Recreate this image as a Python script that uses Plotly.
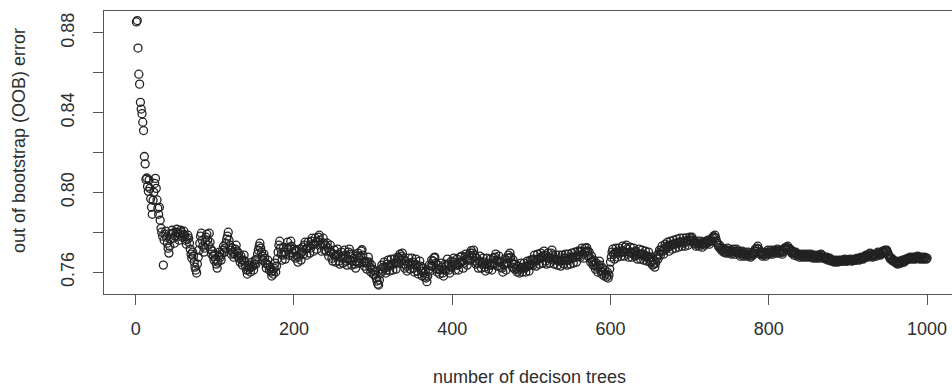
import plotly.graph_objects as go

# Out-of-bag error of a random forest as trees are added (one value per tree count)
oob_error = [
    0.8855, 0.8862, 0.8724, 0.8593, 0.8543, 0.8452, 0.8418, 0.8395, 0.8352, 0.8310,
    0.8180, 0.8143, 0.8065, 0.8072, 0.8030, 0.8005, 0.8062, 0.8020, 0.7968, 0.7925,
    0.7890, 0.7960, 0.8000, 0.8045, 0.8070, 0.8020, 0.7962, 0.7920, 0.7890, 0.7925,
    0.7860, 0.7820, 0.7800, 0.7780, 0.7635, 0.7760, 0.7790, 0.7805, 0.7775, 0.7745,
    0.7720, 0.7695, 0.7730, 0.7765, 0.7790, 0.7810, 0.7795, 0.7770, 0.7745, 0.7780,
    0.7800, 0.7815, 0.7795, 0.7780, 0.7760, 0.7790, 0.7810, 0.7800, 0.7775, 0.7790,
    0.7805, 0.7785, 0.7760, 0.7740, 0.7765, 0.7785, 0.7770, 0.7745, 0.7715, 0.7690,
    0.7670, 0.7700, 0.7680, 0.7650, 0.7625, 0.7610, 0.7595, 0.7640, 0.7675, 0.7710,
    0.7745, 0.7780, 0.7795, 0.7760, 0.7730, 0.7700, 0.7720, 0.7750, 0.7775, 0.7790,
    0.7760, 0.7735, 0.7795, 0.7750, 0.7715, 0.7690, 0.7705, 0.7680, 0.7660, 0.7690,
    0.7665, 0.7640, 0.7620, 0.7650, 0.7680, 0.7700, 0.7675, 0.7660, 0.7690, 0.7710,
    0.7730, 0.7700, 0.7720, 0.7745, 0.7765, 0.7780, 0.7800, 0.7760, 0.7735, 0.7710,
    0.7690, 0.7720, 0.7700, 0.7675, 0.7690, 0.7715, 0.7735, 0.7705, 0.7680, 0.7695,
    0.7670, 0.7650, 0.7680, 0.7660, 0.7635, 0.7660, 0.7685, 0.7655, 0.7630, 0.7610,
    0.7590, 0.7610, 0.7635, 0.7620, 0.7600, 0.7625, 0.7650, 0.7630, 0.7610, 0.7640,
    0.7660, 0.7640, 0.7665, 0.7690, 0.7710, 0.7730, 0.7745, 0.7720, 0.7700, 0.7680,
    0.7660, 0.7690, 0.7670, 0.7645, 0.7620, 0.7640, 0.7660, 0.7635, 0.7610, 0.7625,
    0.7600, 0.7580, 0.7605, 0.7590, 0.7620, 0.7645, 0.7600, 0.7630, 0.7665, 0.7700,
    0.7735, 0.7755, 0.7720, 0.7690, 0.7660, 0.7685, 0.7725, 0.7700, 0.7665, 0.7690,
    0.7720, 0.7750, 0.7715, 0.7685, 0.7725, 0.7755, 0.7730, 0.7695, 0.7680, 0.7715,
    0.7705, 0.7670, 0.7710, 0.7680, 0.7650, 0.7675, 0.7715, 0.7690, 0.7660, 0.7700,
    0.7725, 0.7690, 0.7735, 0.7750, 0.7715, 0.7685, 0.7720, 0.7750, 0.7730, 0.7695,
    0.7720, 0.7755, 0.7770, 0.7740, 0.7705, 0.7740, 0.7770, 0.7750, 0.7715, 0.7755,
    0.7775, 0.7785, 0.7760, 0.7735, 0.7705, 0.7740, 0.7770, 0.7745, 0.7710, 0.7735,
    0.7705, 0.7745, 0.7720, 0.7680, 0.7705, 0.7735, 0.7700, 0.7670, 0.7655, 0.7690,
    0.7710, 0.7680, 0.7650, 0.7685, 0.7715, 0.7690, 0.7655, 0.7640, 0.7675, 0.7700,
    0.7670, 0.7645, 0.7680, 0.7710, 0.7685, 0.7655, 0.7635, 0.7665, 0.7700, 0.7715,
    0.7690, 0.7660, 0.7635, 0.7655, 0.7690, 0.7670, 0.7640, 0.7620, 0.7650, 0.7680,
    0.7695, 0.7670, 0.7645, 0.7680, 0.7705, 0.7712, 0.7685, 0.7650, 0.7630, 0.7655,
    0.7645, 0.7615, 0.7650, 0.7675, 0.7650, 0.7625, 0.7600, 0.7635, 0.7615, 0.7590,
    0.7610, 0.7585, 0.7600, 0.7570, 0.7555, 0.7540, 0.7535, 0.7560, 0.7590, 0.7615,
    0.7635, 0.7605, 0.7625, 0.7650, 0.7620, 0.7595, 0.7610, 0.7640, 0.7660, 0.7630,
    0.7605, 0.7635, 0.7665, 0.7640, 0.7610, 0.7640, 0.7665, 0.7645, 0.7615, 0.7650,
    0.7675, 0.7645, 0.7670, 0.7690, 0.7660, 0.7680, 0.7695, 0.7670, 0.7640, 0.7620,
    0.7655, 0.7630, 0.7605, 0.7640, 0.7670, 0.7645, 0.7615, 0.7640, 0.7670, 0.7650,
    0.7620, 0.7600, 0.7640, 0.7665, 0.7635, 0.7605, 0.7590, 0.7625, 0.7655, 0.7630,
    0.7605, 0.7580, 0.7620, 0.7595, 0.7575, 0.7600, 0.7570, 0.7552, 0.7580, 0.7610,
    0.7635, 0.7605, 0.7630, 0.7660, 0.7630, 0.7655, 0.7672, 0.7675, 0.7645, 0.7615,
    0.7600, 0.7635, 0.7615, 0.7590, 0.7610, 0.7645, 0.7625, 0.7595, 0.7580, 0.7610,
    0.7640, 0.7610, 0.7635, 0.7665, 0.7640, 0.7610, 0.7595, 0.7625, 0.7655, 0.7630,
    0.7650, 0.7670, 0.7640, 0.7610, 0.7635, 0.7665, 0.7635, 0.7610, 0.7645, 0.7675,
    0.7650, 0.7680, 0.7655, 0.7620, 0.7645, 0.7675, 0.7690, 0.7665, 0.7635, 0.7660,
    0.7685, 0.7660, 0.7695, 0.7708, 0.7680, 0.7695, 0.7710, 0.7685, 0.7655, 0.7640,
    0.7670, 0.7645, 0.7620, 0.7655, 0.7680, 0.7650, 0.7620, 0.7640, 0.7670, 0.7650,
    0.7625, 0.7605, 0.7640, 0.7670, 0.7645, 0.7615, 0.7635, 0.7665, 0.7635, 0.7610,
    0.7640, 0.7670, 0.7645, 0.7675, 0.7690, 0.7660, 0.7630, 0.7655, 0.7680, 0.7650,
    0.7625, 0.7650, 0.7620, 0.7600, 0.7635, 0.7665, 0.7640, 0.7610, 0.7645, 0.7670,
    0.7685, 0.7670, 0.7695, 0.7675, 0.7645, 0.7625, 0.7660, 0.7640, 0.7615, 0.7640,
    0.7620, 0.7600, 0.7630, 0.7610, 0.7595, 0.7620, 0.7645, 0.7620, 0.7600, 0.7625,
    0.7645, 0.7620, 0.7600, 0.7630, 0.7655, 0.7630, 0.7605, 0.7635, 0.7660, 0.7640,
    0.7660, 0.7635, 0.7665, 0.7685, 0.7655, 0.7630, 0.7660, 0.7690, 0.7665, 0.7640,
    0.7670, 0.7695, 0.7675, 0.7645, 0.7680, 0.7705, 0.7685, 0.7655, 0.7640, 0.7670,
    0.7695, 0.7670, 0.7645, 0.7670, 0.7695, 0.7710, 0.7685, 0.7660, 0.7640, 0.7665,
    0.7685, 0.7660, 0.7635, 0.7660, 0.7685, 0.7655, 0.7630, 0.7660, 0.7685, 0.7660,
    0.7640, 0.7670, 0.7690, 0.7660, 0.7635, 0.7660, 0.7690, 0.7665, 0.7640, 0.7675,
    0.7695, 0.7670, 0.7645, 0.7675, 0.7700, 0.7675, 0.7650, 0.7680, 0.7705, 0.7680,
    0.7700, 0.7675, 0.7705, 0.7720, 0.7690, 0.7670, 0.7700, 0.7720, 0.7705, 0.7722,
    0.7705, 0.7680, 0.7700, 0.7670, 0.7650, 0.7680, 0.7655, 0.7635, 0.7660, 0.7635,
    0.7615, 0.7645, 0.7625, 0.7600, 0.7630, 0.7655, 0.7635, 0.7605, 0.7590, 0.7620,
    0.7600, 0.7580, 0.7610, 0.7590, 0.7575, 0.7600, 0.7570, 0.7585, 0.7615, 0.7650,
    0.7675, 0.7700, 0.7715, 0.7690, 0.7665, 0.7695, 0.7720, 0.7700, 0.7675, 0.7700,
    0.7720, 0.7695, 0.7680, 0.7705, 0.7730, 0.7705, 0.7680, 0.7700, 0.7725, 0.7735,
    0.7715, 0.7690, 0.7675, 0.7700, 0.7725, 0.7700, 0.7675, 0.7695, 0.7720, 0.7700,
    0.7680, 0.7705, 0.7685, 0.7665, 0.7690, 0.7715, 0.7690, 0.7665, 0.7690, 0.7710,
    0.7690, 0.7660, 0.7685, 0.7705, 0.7675, 0.7655, 0.7680, 0.7700, 0.7670, 0.7650,
    0.7675, 0.7650, 0.7635, 0.7660, 0.7640, 0.7625, 0.7645, 0.7670, 0.7685, 0.7665,
    0.7690, 0.7710, 0.7685, 0.7710, 0.7730, 0.7705, 0.7690, 0.7720, 0.7740, 0.7715,
    0.7730, 0.7750, 0.7725, 0.7705, 0.7735, 0.7755, 0.7735, 0.7715, 0.7740, 0.7760,
    0.7740, 0.7720, 0.7745, 0.7765, 0.7745, 0.7725, 0.7750, 0.7770, 0.7750, 0.7730,
    0.7750, 0.7770, 0.7745, 0.7730, 0.7755, 0.7772, 0.7755, 0.7735, 0.7760, 0.7775,
    0.7760, 0.7770, 0.7775, 0.7760, 0.7745, 0.7755, 0.7740, 0.7730, 0.7745, 0.7755,
    0.7740, 0.7730, 0.7745, 0.7755, 0.7740, 0.7725, 0.7740, 0.7750, 0.7735, 0.7745,
    0.7755, 0.7745, 0.7760, 0.7750, 0.7740, 0.7755, 0.7765, 0.7755, 0.7770, 0.7780,
    0.7775, 0.7785, 0.7770, 0.7755, 0.7745, 0.7735, 0.7725, 0.7735, 0.7720, 0.7710,
    0.7720, 0.7710, 0.7700, 0.7715, 0.7705, 0.7695, 0.7710, 0.7720, 0.7705, 0.7695,
    0.7710, 0.7700, 0.7690, 0.7705, 0.7715, 0.7700, 0.7690, 0.7705, 0.7715, 0.7705,
    0.7695, 0.7705, 0.7690, 0.7680, 0.7695, 0.7705, 0.7690, 0.7680, 0.7690, 0.7700,
    0.7690, 0.7680, 0.7690, 0.7700, 0.7690, 0.7680, 0.7675, 0.7685, 0.7695, 0.7685,
    0.7695, 0.7705, 0.7715, 0.7705, 0.7720, 0.7730, 0.7715, 0.7700, 0.7690, 0.7700,
    0.7690, 0.7680, 0.7690, 0.7700, 0.7690, 0.7680, 0.7690, 0.7700, 0.7710, 0.7700,
    0.7690, 0.7700, 0.7710, 0.7700, 0.7690, 0.7700, 0.7710, 0.7705, 0.7695, 0.7705,
    0.7715, 0.7705, 0.7695, 0.7705, 0.7710, 0.7700, 0.7690, 0.7700, 0.7710, 0.7720,
    0.7715, 0.7725, 0.7720, 0.7730, 0.7720, 0.7710, 0.7715, 0.7705, 0.7695, 0.7705,
    0.7695, 0.7685, 0.7695, 0.7700, 0.7690, 0.7680, 0.7690, 0.7685, 0.7675, 0.7685,
    0.7690, 0.7680, 0.7675, 0.7685, 0.7690, 0.7680, 0.7675, 0.7680, 0.7690, 0.7685,
    0.7675, 0.7680, 0.7690, 0.7685, 0.7675, 0.7670, 0.7680, 0.7685, 0.7675, 0.7670,
    0.7680, 0.7685, 0.7675, 0.7670, 0.7680, 0.7690, 0.7685, 0.7675, 0.7670, 0.7675,
    0.7670, 0.7665, 0.7675, 0.7670, 0.7660, 0.7665, 0.7670, 0.7660, 0.7655, 0.7660,
    0.7660, 0.7655, 0.7650, 0.7655, 0.7660, 0.7655, 0.7650, 0.7655, 0.7660, 0.7655,
    0.7655, 0.7660, 0.7655, 0.7655, 0.7660, 0.7665, 0.7660, 0.7655, 0.7655, 0.7660,
    0.7660, 0.7660, 0.7665, 0.7660, 0.7655, 0.7660, 0.7660, 0.7665, 0.7660, 0.7660,
    0.7665, 0.7670, 0.7665, 0.7660, 0.7665, 0.7670, 0.7675, 0.7670, 0.7665, 0.7670,
    0.7675, 0.7680, 0.7685, 0.7680, 0.7675, 0.7680, 0.7690, 0.7695, 0.7685, 0.7680,
    0.7675, 0.7680, 0.7685, 0.7690, 0.7685, 0.7680, 0.7690, 0.7700, 0.7695, 0.7690,
    0.7685, 0.7690, 0.7700, 0.7705, 0.7695, 0.7700, 0.7710, 0.7705, 0.7710, 0.7700,
    0.7690, 0.7680, 0.7670, 0.7665, 0.7670, 0.7660, 0.7655, 0.7660, 0.7655, 0.7650,
    0.7645, 0.7650, 0.7640, 0.7645, 0.7655, 0.7650, 0.7645, 0.7650, 0.7660, 0.7655,
    0.7650, 0.7660, 0.7665, 0.7660, 0.7665, 0.7670, 0.7665, 0.7670, 0.7675, 0.7670,
    0.7665, 0.7670, 0.7675, 0.7670, 0.7665, 0.7670, 0.7675, 0.7680, 0.7675, 0.7670,
    0.7665, 0.7670, 0.7675, 0.7670, 0.7665, 0.7670, 0.7675, 0.7670, 0.7665, 0.7670,
]

# Tree counts 1..N for each OOB estimate
n_trees = list(range(1, len(oob_error) + 1))

x_tick_values = [0, 200, 400, 600, 800, 1000]
x_tick_labels = ["0", "200", "400", "600", "800", "1000"]
y_tick_values = [0.76, 0.78, 0.80, 0.82, 0.84, 0.86, 0.88]
y_tick_labels = ["0.76", "", "0.80", "", "0.84", "", "0.88"]

FONT = "Liberation Sans, Arial, sans-serif"
INK = "#2e2e2e"
FRAME = "#555555"

fig = go.Figure(
    go.Scatter(
        x=n_trees,
        y=oob_error,
        mode="markers",
        marker=dict(
            symbol="circle-open",
            size=8,
            color="#222222",
            line=dict(width=1.3, color="#222222"),
        ),
        hoverinfo="x+y",
    )
)

axis_common = dict(
    showgrid=False,
    zeroline=False,
    showline=True,
    linecolor=FRAME,
    linewidth=1.2,
    ticks="outside",
    ticklen=10,
    tickwidth=1.2,
    tickcolor=FRAME,
    tickfont=dict(family=FONT, size=18, color=INK),
)

fig.update_layout(
    width=952,
    height=388,
    margin=dict(l=104, r=0, t=11, b=94),
    paper_bgcolor="white",
    plot_bgcolor="white",
    showlegend=False,
    xaxis=dict(
        **axis_common,
        range=[-40, 1031.5],
        mirror=True,
        tickvals=x_tick_values,
        ticktext=x_tick_labels,
        ticklabelstandoff=8,
    ),
    yaxis=dict(
        **axis_common,
        range=[0.7490, 0.8910],
        tickvals=y_tick_values,
        ticktext=y_tick_labels,
        tickangle=-90,
        ticklabelstandoff=12,
    ),
    annotations=[
        dict(
            text="number of decison trees",
            xref="paper", yref="paper",
            x=0.502, y=(294 - 377) / 283,
            xanchor="center", yanchor="middle",
            showarrow=False,
            font=dict(family=FONT, size=18, color=INK),
        ),
        dict(
            text="out of bootstrap (OOB) error",
            xref="paper", yref="paper",
            x=(19 - 104) / 848, y=(294 - 141) / 283,
            xanchor="center", yanchor="middle",
            textangle=-90,
            showarrow=False,
            font=dict(family=FONT, size=18, color=INK),
        ),
    ],
)

fig.write_html("out.html")
